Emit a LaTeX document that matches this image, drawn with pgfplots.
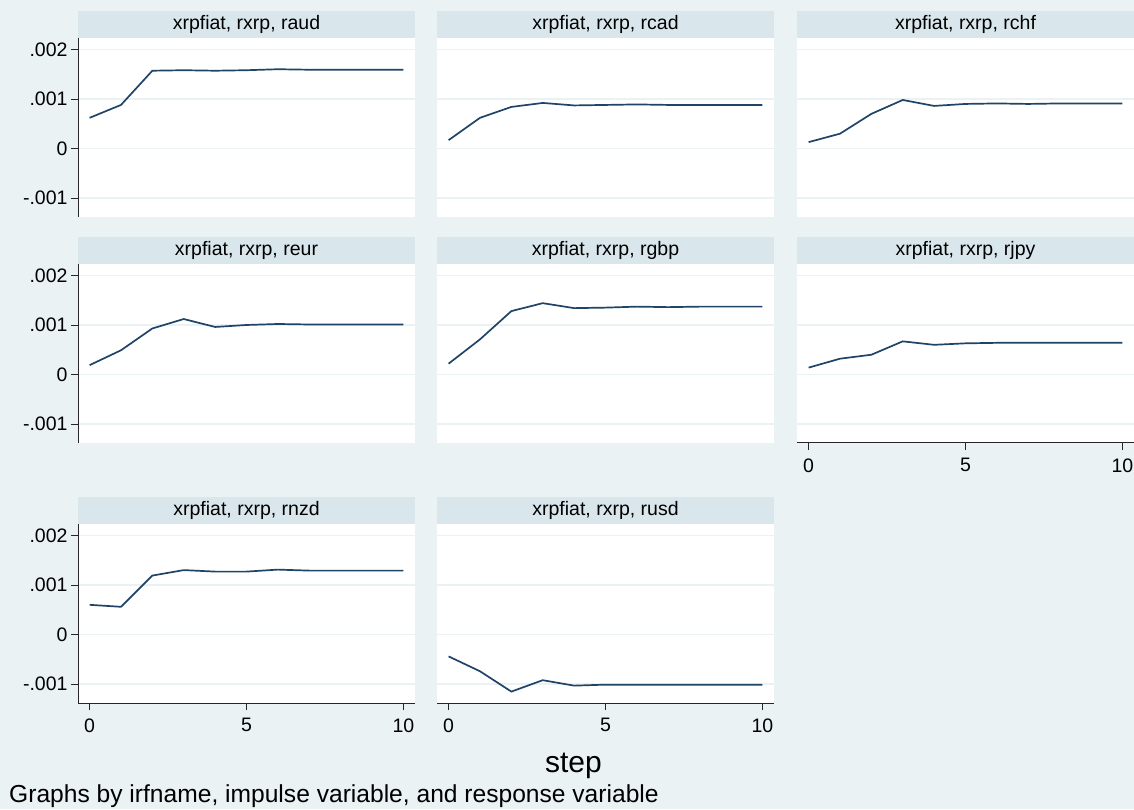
\documentclass[border=0pt]{standalone}
\usepackage{pgfplots}
\pgfplotsset{compat=1.18}
\usepackage{fontspec}
\setmainfont{Liberation Sans}
\definecolor{bg}{HTML}{EAF2F3}
\definecolor{hdr}{HTML}{D9E6EB}
\definecolor{grd}{HTML}{EAF2F3}
\definecolor{ln}{HTML}{1F4468}
\pgfplotsset{
  panel/.style={
    scale only axis, width=337pt, height=179pt,
    anchor=south west,
    xmin=-0.37, xmax=10.37, ymin=-0.00138, ymax=0.00223,
    enlargelimits=false, clip=false,
    scaled y ticks=false, scaled x ticks=false,
    /pgf/number format/assume math mode=true,
    axis background/.style={fill=white},
    axis lines*=left,
    axis line style={-, black!85, line width=1pt},
    x axis line style={draw=none},
    y axis line style={draw=none},
    ytick={-0.001,0,0.001,0.002},
    yticklabels={,,,},
    ytick style={draw=none},
    xtick=\empty,
    ymajorgrids,
    grid style={grd, line width=1.4pt},
    tick align=outside,
    major tick length=7pt,
    tick style={black!85, line width=0.9pt},
    ticklabel style={font=\fontsize{19.5pt}{22pt}\selectfont, text=black},
    xticklabel style={yshift=-5pt},
  },
  leftcol/.style={
    y axis line style={draw=black!85},
    ytick style={draw=black!85},
    yticklabels={-.001,0,.001,.002},
  },
  bottomrow/.style={
    x axis line style={draw=black!85},
    xtick={0,5,10},
    xticklabels={0,5,10},
    xtick style={draw=black!85},
  },
}
\newcommand{\header}[1]{%
  \fill[hdr] (rel axis cs:0,1) rectangle ([yshift=27pt]rel axis cs:1,1);
  \node[font=\fontsize{19.5pt}{22pt}\selectfont, text=black, anchor=center]
    at ([yshift=13.5pt]rel axis cs:0.5,1) {#1};
}
\begin{document}
\begin{tikzpicture}
\useasboundingbox (0,0) rectangle (1134pt,809pt);
\fill[bg] (0,0) rectangle (1134pt,809pt);

% Row 1
\begin{axis}[panel, leftcol, at={(78pt,592pt)}]
  \header{xrpfiat, rxrp, raud}
  \addplot[ln, line width=1.7pt] coordinates {(0,0.00062)(1,0.00088)(2,0.00157)(3,0.00158)(4,0.00157)(5,0.00158)(6,0.00160)(7,0.00159)(8,0.00159)(9,0.00159)(10,0.00159)};
\end{axis}
\begin{axis}[panel, at={(437pt,592pt)}]
  \header{xrpfiat, rxrp, rcad}
  \addplot[ln, line width=1.7pt] coordinates {(0,0.00017)(1,0.00062)(2,0.00084)(3,0.00092)(4,0.00087)(5,0.00088)(6,0.00089)(7,0.00088)(8,0.00088)(9,0.00088)(10,0.00088)};
\end{axis}
\begin{axis}[panel, at={(797pt,592pt)}]
  \header{xrpfiat, rxrp, rchf}
  \addplot[ln, line width=1.7pt] coordinates {(0,0.00013)(1,0.00030)(2,0.00070)(3,0.00098)(4,0.00086)(5,0.00090)(6,0.00091)(7,0.00090)(8,0.00091)(9,0.00091)(10,0.00091)};
\end{axis}

% Row 2
\begin{axis}[panel, leftcol, at={(78pt,366pt)}]
  \header{xrpfiat, rxrp, reur}
  \addplot[ln, line width=1.7pt] coordinates {(0,0.00019)(1,0.00049)(2,0.00093)(3,0.00112)(4,0.00096)(5,0.00100)(6,0.00102)(7,0.00101)(8,0.00101)(9,0.00101)(10,0.00101)};
\end{axis}
\begin{axis}[panel, at={(437pt,366pt)}]
  \header{xrpfiat, rxrp, rgbp}
  \addplot[ln, line width=1.7pt] coordinates {(0,0.00022)(1,0.00071)(2,0.00128)(3,0.00144)(4,0.00134)(5,0.00135)(6,0.00137)(7,0.00136)(8,0.00137)(9,0.00137)(10,0.00137)};
\end{axis}
\begin{axis}[panel, bottomrow, at={(797pt,366pt)}]
  \header{xrpfiat, rxrp, rjpy}
  \addplot[ln, line width=1.7pt] coordinates {(0,0.00014)(1,0.00032)(2,0.00040)(3,0.00067)(4,0.00060)(5,0.00063)(6,0.00064)(7,0.00064)(8,0.00064)(9,0.00064)(10,0.00064)};
\end{axis}

% Row 3
\begin{axis}[panel, leftcol, bottomrow, at={(78pt,106pt)}]
  \header{xrpfiat, rxrp, rnzd}
  \addplot[ln, line width=1.7pt] coordinates {(0,0.00060)(1,0.00056)(2,0.00119)(3,0.00130)(4,0.00127)(5,0.00127)(6,0.00131)(7,0.00129)(8,0.00129)(9,0.00129)(10,0.00129)};
\end{axis}
\begin{axis}[panel, bottomrow, at={(437pt,106pt)}]
  \header{xrpfiat, rxrp, rusd}
  \addplot[ln, line width=1.7pt] coordinates {(0,-0.00044)(1,-0.00074)(2,-0.00115)(3,-0.00092)(4,-0.00103)(5,-0.00101)(6,-0.00101)(7,-0.00101)(8,-0.00101)(9,-0.00101)(10,-0.00101)};
\end{axis}

\node[font=\fontsize{30pt}{34pt}\selectfont, anchor=base] at (573.5pt,37pt) {step};
\node[font=\fontsize{24.6pt}{28pt}\selectfont, anchor=base west, inner sep=0pt] at (9pt,7pt) {Graphs by irfname, impulse variable, and response variable};
\end{tikzpicture}
\end{document}
